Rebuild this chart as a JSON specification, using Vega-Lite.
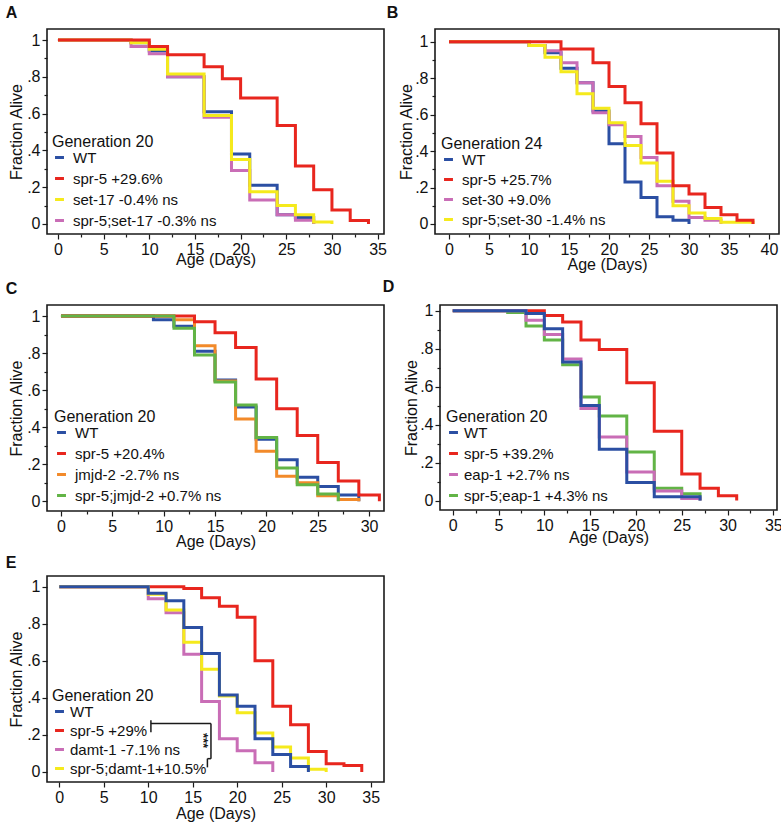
{
  "$schema": "https://vega.github.io/schema/vega-lite/v6.json",
  "background": "white",
  "padding": {"left": 4, "top": 4, "right": 0, "bottom": 2},
  "datasets": {
    "curves": [
      {"panel": "A", "series": "WT", "day": 0, "frac": 1},
      {"panel": "A", "series": "WT", "day": 8, "frac": 0.985},
      {"panel": "A", "series": "WT", "day": 10, "frac": 0.94},
      {"panel": "A", "series": "WT", "day": 12, "frac": 0.8},
      {"panel": "A", "series": "WT", "day": 16, "frac": 0.61},
      {"panel": "A", "series": "WT", "day": 19, "frac": 0.38},
      {"panel": "A", "series": "WT", "day": 21, "frac": 0.21},
      {"panel": "A", "series": "WT", "day": 24, "frac": 0.05},
      {"panel": "A", "series": "WT", "day": 26, "frac": 0.035},
      {"panel": "A", "series": "WT", "day": 28, "frac": 0},
      {"panel": "A", "series": "spr-5;set-17 -0.3% ns", "day": 0, "frac": 1},
      {"panel": "A", "series": "spr-5;set-17 -0.3% ns", "day": 8, "frac": 0.965},
      {"panel": "A", "series": "spr-5;set-17 -0.3% ns", "day": 10, "frac": 0.925},
      {"panel": "A", "series": "spr-5;set-17 -0.3% ns", "day": 12, "frac": 0.8},
      {"panel": "A", "series": "spr-5;set-17 -0.3% ns", "day": 16, "frac": 0.58},
      {"panel": "A", "series": "spr-5;set-17 -0.3% ns", "day": 19, "frac": 0.29},
      {"panel": "A", "series": "spr-5;set-17 -0.3% ns", "day": 21, "frac": 0.13},
      {"panel": "A", "series": "spr-5;set-17 -0.3% ns", "day": 24, "frac": 0.05},
      {"panel": "A", "series": "spr-5;set-17 -0.3% ns", "day": 26, "frac": 0.02},
      {"panel": "A", "series": "spr-5;set-17 -0.3% ns", "day": 28, "frac": 0},
      {"panel": "A", "series": "set-17 -0.4% ns", "day": 0, "frac": 1},
      {"panel": "A", "series": "set-17 -0.4% ns", "day": 8, "frac": 0.985},
      {"panel": "A", "series": "set-17 -0.4% ns", "day": 10, "frac": 0.95},
      {"panel": "A", "series": "set-17 -0.4% ns", "day": 12, "frac": 0.815},
      {"panel": "A", "series": "set-17 -0.4% ns", "day": 16, "frac": 0.59},
      {"panel": "A", "series": "set-17 -0.4% ns", "day": 19, "frac": 0.35},
      {"panel": "A", "series": "set-17 -0.4% ns", "day": 21, "frac": 0.175},
      {"panel": "A", "series": "set-17 -0.4% ns", "day": 24, "frac": 0.1},
      {"panel": "A", "series": "set-17 -0.4% ns", "day": 26, "frac": 0.05},
      {"panel": "A", "series": "set-17 -0.4% ns", "day": 28, "frac": 0.01},
      {"panel": "A", "series": "set-17 -0.4% ns", "day": 30, "frac": 0},
      {"panel": "A", "series": "spr-5 +29.6%", "day": 0, "frac": 1},
      {"panel": "A", "series": "spr-5 +29.6%", "day": 10, "frac": 0.965},
      {"panel": "A", "series": "spr-5 +29.6%", "day": 12, "frac": 0.92},
      {"panel": "A", "series": "spr-5 +29.6%", "day": 16, "frac": 0.855},
      {"panel": "A", "series": "spr-5 +29.6%", "day": 18, "frac": 0.79},
      {"panel": "A", "series": "spr-5 +29.6%", "day": 20, "frac": 0.685},
      {"panel": "A", "series": "spr-5 +29.6%", "day": 24, "frac": 0.535},
      {"panel": "A", "series": "spr-5 +29.6%", "day": 26, "frac": 0.315},
      {"panel": "A", "series": "spr-5 +29.6%", "day": 28, "frac": 0.185},
      {"panel": "A", "series": "spr-5 +29.6%", "day": 30, "frac": 0.075},
      {"panel": "A", "series": "spr-5 +29.6%", "day": 32, "frac": 0.018},
      {"panel": "A", "series": "spr-5 +29.6%", "day": 34, "frac": 0},

      {"panel": "B", "series": "WT", "day": 0, "frac": 1},
      {"panel": "B", "series": "WT", "day": 10, "frac": 0.98},
      {"panel": "B", "series": "WT", "day": 12, "frac": 0.94},
      {"panel": "B", "series": "WT", "day": 14, "frac": 0.855},
      {"panel": "B", "series": "WT", "day": 16, "frac": 0.775},
      {"panel": "B", "series": "WT", "day": 18, "frac": 0.62},
      {"panel": "B", "series": "WT", "day": 20, "frac": 0.44},
      {"panel": "B", "series": "WT", "day": 22, "frac": 0.23},
      {"panel": "B", "series": "WT", "day": 24, "frac": 0.145},
      {"panel": "B", "series": "WT", "day": 26, "frac": 0.04},
      {"panel": "B", "series": "WT", "day": 28, "frac": 0.02},
      {"panel": "B", "series": "WT", "day": 30, "frac": 0},
      {"panel": "B", "series": "set-30 +9.0%", "day": 0, "frac": 1},
      {"panel": "B", "series": "set-30 +9.0%", "day": 10, "frac": 0.98},
      {"panel": "B", "series": "set-30 +9.0%", "day": 12, "frac": 0.95},
      {"panel": "B", "series": "set-30 +9.0%", "day": 14, "frac": 0.885},
      {"panel": "B", "series": "set-30 +9.0%", "day": 16, "frac": 0.775},
      {"panel": "B", "series": "set-30 +9.0%", "day": 18, "frac": 0.61},
      {"panel": "B", "series": "set-30 +9.0%", "day": 20, "frac": 0.545},
      {"panel": "B", "series": "set-30 +9.0%", "day": 22, "frac": 0.48},
      {"panel": "B", "series": "set-30 +9.0%", "day": 24, "frac": 0.365},
      {"panel": "B", "series": "set-30 +9.0%", "day": 26, "frac": 0.21},
      {"panel": "B", "series": "set-30 +9.0%", "day": 28, "frac": 0.125},
      {"panel": "B", "series": "set-30 +9.0%", "day": 30, "frac": 0.035},
      {"panel": "B", "series": "set-30 +9.0%", "day": 32, "frac": 0.02},
      {"panel": "B", "series": "set-30 +9.0%", "day": 34, "frac": 0},
      {"panel": "B", "series": "spr-5;set-30 -1.4% ns", "day": 0, "frac": 1},
      {"panel": "B", "series": "spr-5;set-30 -1.4% ns", "day": 10, "frac": 0.98},
      {"panel": "B", "series": "spr-5;set-30 -1.4% ns", "day": 12, "frac": 0.915},
      {"panel": "B", "series": "spr-5;set-30 -1.4% ns", "day": 14, "frac": 0.835},
      {"panel": "B", "series": "spr-5;set-30 -1.4% ns", "day": 16, "frac": 0.715},
      {"panel": "B", "series": "spr-5;set-30 -1.4% ns", "day": 18, "frac": 0.635},
      {"panel": "B", "series": "spr-5;set-30 -1.4% ns", "day": 20, "frac": 0.555},
      {"panel": "B", "series": "spr-5;set-30 -1.4% ns", "day": 22, "frac": 0.43},
      {"panel": "B", "series": "spr-5;set-30 -1.4% ns", "day": 24, "frac": 0.335},
      {"panel": "B", "series": "spr-5;set-30 -1.4% ns", "day": 26, "frac": 0.235},
      {"panel": "B", "series": "spr-5;set-30 -1.4% ns", "day": 28, "frac": 0.1},
      {"panel": "B", "series": "spr-5;set-30 -1.4% ns", "day": 30, "frac": 0.06},
      {"panel": "B", "series": "spr-5;set-30 -1.4% ns", "day": 32, "frac": 0.03},
      {"panel": "B", "series": "spr-5;set-30 -1.4% ns", "day": 34, "frac": 0.01},
      {"panel": "B", "series": "spr-5;set-30 -1.4% ns", "day": 38, "frac": 0},
      {"panel": "B", "series": "spr-5 +25.7%", "day": 0, "frac": 1},
      {"panel": "B", "series": "spr-5 +25.7%", "day": 14, "frac": 0.96},
      {"panel": "B", "series": "spr-5 +25.7%", "day": 18, "frac": 0.885},
      {"panel": "B", "series": "spr-5 +25.7%", "day": 20, "frac": 0.755},
      {"panel": "B", "series": "spr-5 +25.7%", "day": 22, "frac": 0.665},
      {"panel": "B", "series": "spr-5 +25.7%", "day": 24, "frac": 0.55},
      {"panel": "B", "series": "spr-5 +25.7%", "day": 26, "frac": 0.39},
      {"panel": "B", "series": "spr-5 +25.7%", "day": 28, "frac": 0.21},
      {"panel": "B", "series": "spr-5 +25.7%", "day": 30, "frac": 0.165},
      {"panel": "B", "series": "spr-5 +25.7%", "day": 32, "frac": 0.09},
      {"panel": "B", "series": "spr-5 +25.7%", "day": 34, "frac": 0.05},
      {"panel": "B", "series": "spr-5 +25.7%", "day": 36, "frac": 0.02},
      {"panel": "B", "series": "spr-5 +25.7%", "day": 38, "frac": 0},

      {"panel": "C", "series": "WT", "day": 0, "frac": 1},
      {"panel": "C", "series": "WT", "day": 9, "frac": 0.98},
      {"panel": "C", "series": "WT", "day": 11, "frac": 0.945},
      {"panel": "C", "series": "WT", "day": 13, "frac": 0.81},
      {"panel": "C", "series": "WT", "day": 15, "frac": 0.655},
      {"panel": "C", "series": "WT", "day": 17, "frac": 0.51},
      {"panel": "C", "series": "WT", "day": 19, "frac": 0.335},
      {"panel": "C", "series": "WT", "day": 21, "frac": 0.225},
      {"panel": "C", "series": "WT", "day": 23, "frac": 0.13},
      {"panel": "C", "series": "WT", "day": 25, "frac": 0.08},
      {"panel": "C", "series": "WT", "day": 27, "frac": 0.035},
      {"panel": "C", "series": "WT", "day": 29, "frac": 0},
      {"panel": "C", "series": "jmjd-2 -2.7% ns", "day": 0, "frac": 1},
      {"panel": "C", "series": "jmjd-2 -2.7% ns", "day": 11, "frac": 0.98},
      {"panel": "C", "series": "jmjd-2 -2.7% ns", "day": 13, "frac": 0.84},
      {"panel": "C", "series": "jmjd-2 -2.7% ns", "day": 15, "frac": 0.65},
      {"panel": "C", "series": "jmjd-2 -2.7% ns", "day": 17, "frac": 0.445},
      {"panel": "C", "series": "jmjd-2 -2.7% ns", "day": 19, "frac": 0.27},
      {"panel": "C", "series": "jmjd-2 -2.7% ns", "day": 21, "frac": 0.135},
      {"panel": "C", "series": "jmjd-2 -2.7% ns", "day": 23, "frac": 0.1},
      {"panel": "C", "series": "jmjd-2 -2.7% ns", "day": 25, "frac": 0.03},
      {"panel": "C", "series": "jmjd-2 -2.7% ns", "day": 27, "frac": 0.01},
      {"panel": "C", "series": "jmjd-2 -2.7% ns", "day": 29, "frac": 0},
      {"panel": "C", "series": "spr-5 +20.4%", "day": 0, "frac": 1},
      {"panel": "C", "series": "spr-5 +20.4%", "day": 13, "frac": 0.97},
      {"panel": "C", "series": "spr-5 +20.4%", "day": 15, "frac": 0.91},
      {"panel": "C", "series": "spr-5 +20.4%", "day": 17, "frac": 0.83},
      {"panel": "C", "series": "spr-5 +20.4%", "day": 19, "frac": 0.66},
      {"panel": "C", "series": "spr-5 +20.4%", "day": 21, "frac": 0.5},
      {"panel": "C", "series": "spr-5 +20.4%", "day": 23, "frac": 0.355},
      {"panel": "C", "series": "spr-5 +20.4%", "day": 25, "frac": 0.21},
      {"panel": "C", "series": "spr-5 +20.4%", "day": 27, "frac": 0.11},
      {"panel": "C", "series": "spr-5 +20.4%", "day": 29, "frac": 0.035},
      {"panel": "C", "series": "spr-5 +20.4%", "day": 31, "frac": 0},
      {"panel": "C", "series": "spr-5;jmjd-2 +0.7% ns", "day": 0, "frac": 1},
      {"panel": "C", "series": "spr-5;jmjd-2 +0.7% ns", "day": 11, "frac": 0.935},
      {"panel": "C", "series": "spr-5;jmjd-2 +0.7% ns", "day": 13, "frac": 0.79},
      {"panel": "C", "series": "spr-5;jmjd-2 +0.7% ns", "day": 15, "frac": 0.645},
      {"panel": "C", "series": "spr-5;jmjd-2 +0.7% ns", "day": 17, "frac": 0.52},
      {"panel": "C", "series": "spr-5;jmjd-2 +0.7% ns", "day": 19, "frac": 0.345},
      {"panel": "C", "series": "spr-5;jmjd-2 +0.7% ns", "day": 21, "frac": 0.18},
      {"panel": "C", "series": "spr-5;jmjd-2 +0.7% ns", "day": 23, "frac": 0.09},
      {"panel": "C", "series": "spr-5;jmjd-2 +0.7% ns", "day": 25, "frac": 0.04},
      {"panel": "C", "series": "spr-5;jmjd-2 +0.7% ns", "day": 27, "frac": 0},

      {"panel": "D", "series": "spr-5 +39.2%", "day": 0, "frac": 1},
      {"panel": "D", "series": "spr-5 +39.2%", "day": 10, "frac": 0.975},
      {"panel": "D", "series": "spr-5 +39.2%", "day": 12, "frac": 0.94},
      {"panel": "D", "series": "spr-5 +39.2%", "day": 14, "frac": 0.845},
      {"panel": "D", "series": "spr-5 +39.2%", "day": 16, "frac": 0.795},
      {"panel": "D", "series": "spr-5 +39.2%", "day": 19, "frac": 0.62},
      {"panel": "D", "series": "spr-5 +39.2%", "day": 22, "frac": 0.365},
      {"panel": "D", "series": "spr-5 +39.2%", "day": 25, "frac": 0.14},
      {"panel": "D", "series": "spr-5 +39.2%", "day": 27, "frac": 0.065},
      {"panel": "D", "series": "spr-5 +39.2%", "day": 29, "frac": 0.025},
      {"panel": "D", "series": "spr-5 +39.2%", "day": 31, "frac": 0},
      {"panel": "D", "series": "spr-5;eap-1 +4.3% ns", "day": 0, "frac": 1},
      {"panel": "D", "series": "spr-5;eap-1 +4.3% ns", "day": 6, "frac": 0.99},
      {"panel": "D", "series": "spr-5;eap-1 +4.3% ns", "day": 8, "frac": 0.92},
      {"panel": "D", "series": "spr-5;eap-1 +4.3% ns", "day": 10, "frac": 0.845},
      {"panel": "D", "series": "spr-5;eap-1 +4.3% ns", "day": 12, "frac": 0.715},
      {"panel": "D", "series": "spr-5;eap-1 +4.3% ns", "day": 14, "frac": 0.545},
      {"panel": "D", "series": "spr-5;eap-1 +4.3% ns", "day": 16, "frac": 0.445},
      {"panel": "D", "series": "spr-5;eap-1 +4.3% ns", "day": 19, "frac": 0.255},
      {"panel": "D", "series": "spr-5;eap-1 +4.3% ns", "day": 22, "frac": 0.065},
      {"panel": "D", "series": "spr-5;eap-1 +4.3% ns", "day": 25, "frac": 0.035},
      {"panel": "D", "series": "spr-5;eap-1 +4.3% ns", "day": 27, "frac": 0},
      {"panel": "D", "series": "eap-1 +2.7% ns", "day": 0, "frac": 1},
      {"panel": "D", "series": "eap-1 +2.7% ns", "day": 8, "frac": 0.95},
      {"panel": "D", "series": "eap-1 +2.7% ns", "day": 10, "frac": 0.875},
      {"panel": "D", "series": "eap-1 +2.7% ns", "day": 12, "frac": 0.745},
      {"panel": "D", "series": "eap-1 +2.7% ns", "day": 14, "frac": 0.485},
      {"panel": "D", "series": "eap-1 +2.7% ns", "day": 16, "frac": 0.335},
      {"panel": "D", "series": "eap-1 +2.7% ns", "day": 19, "frac": 0.15},
      {"panel": "D", "series": "eap-1 +2.7% ns", "day": 22, "frac": 0.05},
      {"panel": "D", "series": "eap-1 +2.7% ns", "day": 25, "frac": 0.01},
      {"panel": "D", "series": "eap-1 +2.7% ns", "day": 27, "frac": 0},
      {"panel": "D", "series": "WT", "day": 0, "frac": 1},
      {"panel": "D", "series": "WT", "day": 8, "frac": 0.985},
      {"panel": "D", "series": "WT", "day": 10, "frac": 0.905},
      {"panel": "D", "series": "WT", "day": 12, "frac": 0.73},
      {"panel": "D", "series": "WT", "day": 14, "frac": 0.5},
      {"panel": "D", "series": "WT", "day": 16, "frac": 0.27},
      {"panel": "D", "series": "WT", "day": 19, "frac": 0.095},
      {"panel": "D", "series": "WT", "day": 22, "frac": 0.02},
      {"panel": "D", "series": "WT", "day": 27, "frac": 0},

      {"panel": "E", "series": "spr-5 +29%", "day": 0, "frac": 1},
      {"panel": "E", "series": "spr-5 +29%", "day": 14, "frac": 0.99},
      {"panel": "E", "series": "spr-5 +29%", "day": 16, "frac": 0.94},
      {"panel": "E", "series": "spr-5 +29%", "day": 18, "frac": 0.895},
      {"panel": "E", "series": "spr-5 +29%", "day": 20, "frac": 0.835},
      {"panel": "E", "series": "spr-5 +29%", "day": 22, "frac": 0.6},
      {"panel": "E", "series": "spr-5 +29%", "day": 24, "frac": 0.355},
      {"panel": "E", "series": "spr-5 +29%", "day": 26, "frac": 0.255},
      {"panel": "E", "series": "spr-5 +29%", "day": 28, "frac": 0.11},
      {"panel": "E", "series": "spr-5 +29%", "day": 30, "frac": 0.045},
      {"panel": "E", "series": "spr-5 +29%", "day": 32, "frac": 0.035},
      {"panel": "E", "series": "spr-5 +29%", "day": 34, "frac": 0},
      {"panel": "E", "series": "damt-1 -7.1% ns", "day": 0, "frac": 1},
      {"panel": "E", "series": "damt-1 -7.1% ns", "day": 10, "frac": 0.935},
      {"panel": "E", "series": "damt-1 -7.1% ns", "day": 12, "frac": 0.86},
      {"panel": "E", "series": "damt-1 -7.1% ns", "day": 14, "frac": 0.635},
      {"panel": "E", "series": "damt-1 -7.1% ns", "day": 16, "frac": 0.38},
      {"panel": "E", "series": "damt-1 -7.1% ns", "day": 18, "frac": 0.18},
      {"panel": "E", "series": "damt-1 -7.1% ns", "day": 20, "frac": 0.115},
      {"panel": "E", "series": "damt-1 -7.1% ns", "day": 22, "frac": 0.05},
      {"panel": "E", "series": "damt-1 -7.1% ns", "day": 24, "frac": 0},
      {"panel": "E", "series": "spr-5;damt-1+10.5%", "day": 0, "frac": 1},
      {"panel": "E", "series": "spr-5;damt-1+10.5%", "day": 10, "frac": 0.96},
      {"panel": "E", "series": "spr-5;damt-1+10.5%", "day": 12, "frac": 0.875},
      {"panel": "E", "series": "spr-5;damt-1+10.5%", "day": 14, "frac": 0.7},
      {"panel": "E", "series": "spr-5;damt-1+10.5%", "day": 16, "frac": 0.555},
      {"panel": "E", "series": "spr-5;damt-1+10.5%", "day": 18, "frac": 0.41},
      {"panel": "E", "series": "spr-5;damt-1+10.5%", "day": 20, "frac": 0.32},
      {"panel": "E", "series": "spr-5;damt-1+10.5%", "day": 22, "frac": 0.21},
      {"panel": "E", "series": "spr-5;damt-1+10.5%", "day": 24, "frac": 0.135},
      {"panel": "E", "series": "spr-5;damt-1+10.5%", "day": 26, "frac": 0.075},
      {"panel": "E", "series": "spr-5;damt-1+10.5%", "day": 28, "frac": 0.015},
      {"panel": "E", "series": "spr-5;damt-1+10.5%", "day": 30, "frac": 0},
      {"panel": "E", "series": "WT", "day": 0, "frac": 1},
      {"panel": "E", "series": "WT", "day": 10, "frac": 0.965},
      {"panel": "E", "series": "WT", "day": 12, "frac": 0.925},
      {"panel": "E", "series": "WT", "day": 14, "frac": 0.78},
      {"panel": "E", "series": "WT", "day": 16, "frac": 0.64},
      {"panel": "E", "series": "WT", "day": 18, "frac": 0.415},
      {"panel": "E", "series": "WT", "day": 20, "frac": 0.355},
      {"panel": "E", "series": "WT", "day": 22, "frac": 0.18},
      {"panel": "E", "series": "WT", "day": 24, "frac": 0.095},
      {"panel": "E", "series": "WT", "day": 26, "frac": 0.03},
      {"panel": "E", "series": "WT", "day": 28, "frac": 0}
    ],
    "bracket": [
      {"x": 10.3, "x2": 17.05, "y": 0.262, "y2": 0.262},
      {"x": 10.3, "x2": 10.3, "y": 0.215, "y2": 0.28},
      {"x": 17.05, "x2": 17.05, "y": 0.262, "y2": 0.072},
      {"x": 16.65, "x2": 17.05, "y": 0.072, "y2": 0.072},
      {"x": 16.65, "x2": 16.65, "y": 0.072, "y2": 0.025}
    ],
    "stars": [
      {"x": 16.1, "y": 0.17, "label": "***"}
    ]
  },
  "data": {"name": "curves"},
  "config": {
    "font": "Liberation Sans",
    "view": {"stroke": "#1a1a1a", "strokeWidth": 1.6},
    "axis": {
      "domain": false,
      "grid": false,
      "tickColor": "#1a1a1a",
      "tickWidth": 1.2,
      "labelColor": "#111",
      "titleColor": "#111",
      "labelFont": "Liberation Sans",
      "titleFont": "Liberation Sans",
      "labelFontSize": 16,
      "titleFontSize": 16,
      "titleFontWeight": "normal",
      "labelPadding": 2,
      "labelOverlap": false,
      "labelFlush": false
    },
    "axisY": {"titlePadding": 2},
    "legend": {
      "orient": "bottom-left",
      "offset": 8,
      "padding": 0,
      "titleFont": "Liberation Sans",
      "labelFont": "Liberation Sans",
      "titleFontSize": 16,
      "titleFontWeight": "normal",
      "titleColor": "#111",
      "labelFontSize": 15,
      "labelColor": "#111",
      "symbolType": "stroke",
      "symbolStrokeWidth": 3,
      "symbolSize": 80,
      "rowPadding": 5,
      "titlePadding": 0,
      "labelOffset": 6,
      "labelLimit": 400
    },
    "title": {"anchor": "start", "frame": "bounds", "fontSize": 16, "fontWeight": "bold", "color": "#111", "offset": 8, "font": "Liberation Sans"},
    "line": {"strokeWidth": 3, "interpolate": "step-after", "strokeCap": "butt"}
  },
  "resolve": {"scale": {"color": "independent", "x": "independent", "y": "independent"}, "legend": {"color": "independent"}},
  "spacing": 4,
  "vconcat": [
    {
      "bounds": "flush",
      "hconcat": [
        {
          "title": {"text": "A", "dx": -3},
          "width": 337, "height": 205,
          "transform": [{"filter": "datum.panel === 'A'"}],
          "mark": {"type": "line"},
          "encoding": {
            "x": {"field": "day", "type": "quantitative", "scale": {"domain": [-1.2, 35.7], "nice": false, "zero": false},
              "axis": {"title": "Age (Days)", "titlePadding": -6, "values": [0, 2.5, 5, 7.5, 10, 12.5, 15, 17.5, 20, 22.5, 25, 27.5, 30, 32.5, 35],
                "labelExpr": "datum.value % 5 === 0 ? format(datum.value, 'd') : ''",
                "tickSize": {"condition": {"test": "datum.value % 5 === 0", "value": 5}, "value": 3}}},
            "y": {"field": "frac", "type": "quantitative", "scale": {"domain": [-0.055, 1.06], "nice": false, "zero": false},
              "axis": {"title": "Fraction Alive", "values": [0, 0.1, 0.2, 0.3, 0.4, 0.5, 0.6, 0.7, 0.8, 0.9, 1],
                "labelExpr": "datum.value === 0 ? '0' : datum.value === 1 ? '1' : (round(datum.value * 10) % 2 === 0 ? '.' + round(datum.value * 10) : '')",
                "tickSize": {"condition": {"test": "round(datum.value * 10) % 2 === 0", "value": 5}, "value": 3}}},
            "color": {"field": "series", "type": "nominal",
              "scale": {"domain": ["WT", "spr-5 +29.6%", "set-17 -0.4% ns", "spr-5;set-17 -0.3% ns"], "range": ["#2b4fa3", "#e8261e", "#f5ea1c", "#c96db6"]},
              "legend": {"title": "Generation 20", "offset": 5}}
          }
        },
        {
          "title": {"text": "B", "dx": -12},
          "width": 344, "height": 205,
          "transform": [{"filter": "datum.panel === 'B'"}],
          "mark": {"type": "line"},
          "encoding": {
            "x": {"field": "day", "type": "quantitative", "scale": {"domain": [-1.75, 41.25], "nice": false, "zero": false},
              "axis": {"title": "Age (Days)", "titlePadding": -1, "values": [0, 2.5, 5, 7.5, 10, 12.5, 15, 17.5, 20, 22.5, 25, 27.5, 30, 32.5, 35, 37.5, 40],
                "labelExpr": "datum.value % 5 === 0 ? format(datum.value, 'd') : ''",
                "tickSize": {"condition": {"test": "datum.value % 5 === 0", "value": 5}, "value": 3}}},
            "y": {"field": "frac", "type": "quantitative", "scale": {"domain": [-0.055, 1.07], "nice": false, "zero": false},
              "axis": {"title": "Fraction Alive", "titlePadding": 0, "values": [0, 0.1, 0.2, 0.3, 0.4, 0.5, 0.6, 0.7, 0.8, 0.9, 1],
                "labelExpr": "datum.value === 0 ? '0' : datum.value === 1 ? '1' : (round(datum.value * 10) % 2 === 0 ? '.' + round(datum.value * 10) : '')",
                "tickSize": {"condition": {"test": "round(datum.value * 10) % 2 === 0", "value": 5}, "value": 3}}},
            "color": {"field": "series", "type": "nominal",
              "scale": {"domain": ["WT", "spr-5 +25.7%", "set-30 +9.0%", "spr-5;set-30 -1.4% ns"], "range": ["#2b4fa3", "#e8261e", "#c96db6", "#f5ea1c"]},
              "legend": {"title": "Generation 24", "offset": 6, "rowPadding": 4}}
          }
        }
      ],
      "spacing": 51,
      "resolve": {"scale": {"color": "independent", "x": "independent", "y": "independent"}, "legend": {"color": "independent"}}
    },
    {
      "bounds": "flush",
      "hconcat": [
        {
          "title": {"text": "C", "dx": -3},
          "width": 337, "height": 206,
          "transform": [{"filter": "datum.panel === 'C'"}],
          "mark": {"type": "line"},
          "encoding": {
            "x": {"field": "day", "type": "quantitative", "scale": {"domain": [-1.36, 31.45], "nice": false, "zero": false},
              "axis": {"title": "Age (Days)", "titlePadding": -1, "values": [0, 2.5, 5, 7.5, 10, 12.5, 15, 17.5, 20, 22.5, 25, 27.5, 30],
                "labelExpr": "datum.value % 5 === 0 ? format(datum.value, 'd') : ''",
                "tickSize": {"condition": {"test": "datum.value % 5 === 0", "value": 5}, "value": 3}}},
            "y": {"field": "frac", "type": "quantitative", "scale": {"domain": [-0.052, 1.06], "nice": false, "zero": false},
              "axis": {"title": "Fraction Alive", "values": [0, 0.1, 0.2, 0.3, 0.4, 0.5, 0.6, 0.7, 0.8, 0.9, 1],
                "labelExpr": "datum.value === 0 ? '0' : datum.value === 1 ? '1' : (round(datum.value * 10) % 2 === 0 ? '.' + round(datum.value * 10) : '')",
                "tickSize": {"condition": {"test": "round(datum.value * 10) % 2 === 0", "value": 5}, "value": 3}}},
            "color": {"field": "series", "type": "nominal",
              "scale": {"domain": ["WT", "spr-5 +20.4%", "jmjd-2 -2.7% ns", "spr-5;jmjd-2 +0.7% ns"], "range": ["#2b4fa3", "#e8261e", "#f28a2a", "#62b446"]},
              "legend": {"title": "Generation 20", "offset": 7}}
          }
        },
        {
          "title": {"text": "D", "dx": -21},
          "width": 337, "height": 205,
          "transform": [{"filter": "datum.panel === 'D'"}],
          "mark": {"type": "line"},
          "encoding": {
            "x": {"field": "day", "type": "quantitative", "scale": {"domain": [-1.39, 35.4], "nice": false, "zero": false},
              "axis": {"title": "Age (Days)", "titlePadding": -4, "values": [0, 2.5, 5, 7.5, 10, 12.5, 15, 17.5, 20, 22.5, 25, 27.5, 30, 32.5, 35],
                "labelExpr": "datum.value % 5 === 0 ? format(datum.value, 'd') : ''",
                "tickSize": {"condition": {"test": "datum.value % 5 === 0", "value": 5}, "value": 3}}},
            "y": {"field": "frac", "type": "quantitative", "scale": {"domain": [-0.05, 1.03], "nice": false, "zero": false},
              "axis": {"title": "Fraction Alive", "titlePadding": 0, "values": [0, 0.1, 0.2, 0.3, 0.4, 0.5, 0.6, 0.7, 0.8, 0.9, 1],
                "labelExpr": "datum.value === 0 ? '0' : datum.value === 1 ? '1' : (round(datum.value * 10) % 2 === 0 ? '.' + round(datum.value * 10) : '')",
                "tickSize": {"condition": {"test": "round(datum.value * 10) % 2 === 0", "value": 5}, "value": 3}}},
            "color": {"field": "series", "type": "nominal",
              "scale": {"domain": ["WT", "spr-5 +39.2%", "eap-1 +2.7% ns", "spr-5;eap-1 +4.3% ns"], "range": ["#2b4fa3", "#e8261e", "#c96db6", "#62b446"]},
              "legend": {"title": "Generation 20", "offset": 6, "labelOffset": 3}}
          }
        }
      ],
      "spacing": 56,
      "resolve": {"scale": {"color": "independent", "x": "independent", "y": "independent"}, "legend": {"color": "independent"}}
    },
    {
      "title": {"text": "E", "offset": 5, "dx": -3},
      "width": 337, "height": 206,
      "layer": [
        {
          "transform": [{"filter": "datum.panel === 'E'"}],
          "mark": {"type": "line"},
          "encoding": {
            "x": {"field": "day", "type": "quantitative", "scale": {"domain": [-1.38, 36.5], "nice": false, "zero": false},
              "axis": {"title": "Age (Days)", "titlePadding": 0, "values": [0, 2.5, 5, 7.5, 10, 12.5, 15, 17.5, 20, 22.5, 25, 27.5, 30, 32.5, 35],
                "labelExpr": "datum.value % 5 === 0 ? format(datum.value, 'd') : ''",
                "tickSize": {"condition": {"test": "datum.value % 5 === 0", "value": 5}, "value": 3}}},
            "y": {"field": "frac", "type": "quantitative", "scale": {"domain": [-0.054, 1.058], "nice": false, "zero": false},
              "axis": {"title": "Fraction Alive", "values": [0, 0.1, 0.2, 0.3, 0.4, 0.5, 0.6, 0.7, 0.8, 0.9, 1],
                "labelExpr": "datum.value === 0 ? '0' : datum.value === 1 ? '1' : (round(datum.value * 10) % 2 === 0 ? '.' + round(datum.value * 10) : '')",
                "tickSize": {"condition": {"test": "round(datum.value * 10) % 2 === 0", "value": 5}, "value": 3}}},
            "color": {"field": "series", "type": "nominal",
              "scale": {"domain": ["WT", "spr-5 +29%", "damt-1 -7.1% ns", "spr-5;damt-1+10.5%"], "range": ["#2b4fa3", "#e8261e", "#c96db6", "#f5ea1c"]},
              "legend": {"title": "Generation 20", "offset": 5, "labelOffset": 3, "rowPadding": 3}}
          }
        },
        {
          "data": {"name": "bracket"},
          "mark": {"type": "rule", "color": "#1a1a1a", "strokeWidth": 1.5},
          "encoding": {
            "x": {"field": "x", "type": "quantitative"},
            "x2": {"field": "x2"},
            "y": {"field": "y", "type": "quantitative"},
            "y2": {"field": "y2"}
          }
        },
        {
          "data": {"name": "stars"},
          "mark": {"type": "text", "angle": 90, "fontSize": 13, "fontWeight": "bold", "color": "#1a1a1a", "align": "center", "baseline": "middle"},
          "encoding": {
            "x": {"field": "x", "type": "quantitative"},
            "y": {"field": "y", "type": "quantitative"},
            "text": {"field": "label"}
          }
        }
      ]
    }
  ]
}
